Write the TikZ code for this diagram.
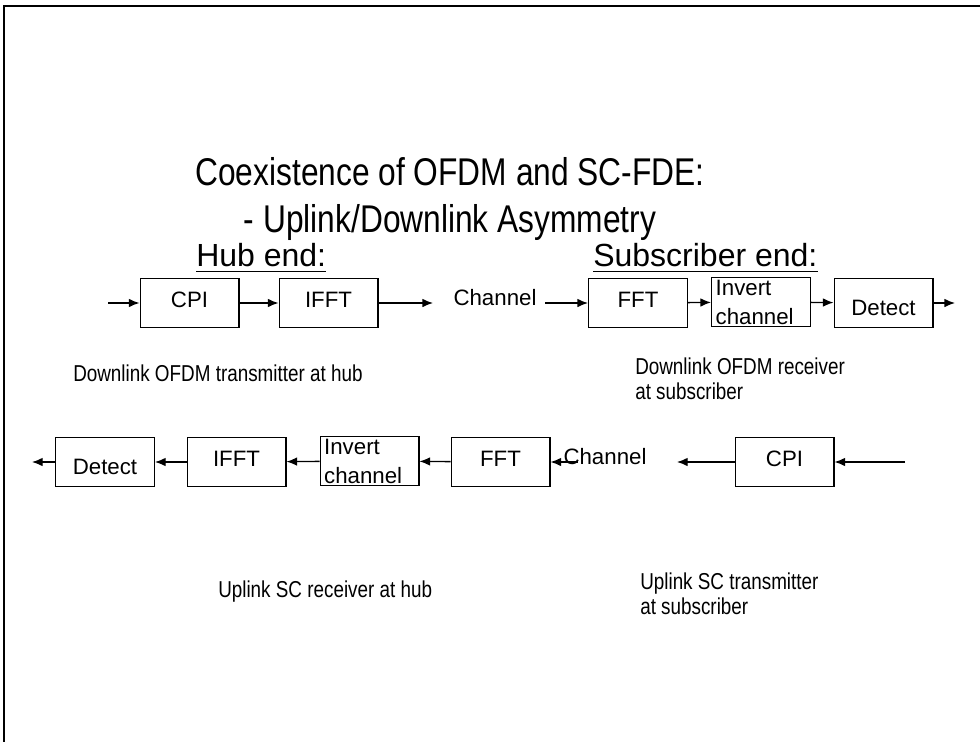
\documentclass[tikz,border=0pt]{standalone}
\usepackage{fontspec}
\setmainfont{Liberation Sans}
\newfontfamily\narrowsf[FakeStretch=0.82]{Liberation Sans}
\usetikzlibrary{arrows.meta}

\begin{document}
\begin{tikzpicture}[x=0.75pt,y=-0.75pt,
   blk/.style={draw,line width=1pt,minimum width=74pt,minimum height=36.5pt,inner sep=0pt,
     text height=12pt,text depth=5.5pt,font=\fontsize{16.7}{20}\selectfont},
   lowblk/.style={blk,text height=19pt,text depth=0pt},
   twoline/.style={blk,align=left,text width=68pt,text height=,text depth=,
     font=\fontsize{16.7}{21.75}\selectfont},
   lbl/.style={inner sep=0pt,anchor=base,font=\fontsize{16.7}{20}\selectfont},
   caption/.style={inner sep=0pt,anchor=base west,align=left,
     font=\narrowsf\fontsize{17.25}{18.75}\selectfont},
   head/.style={inner sep=0pt,anchor=base west,font=\fontsize{24}{28}\selectfont},
   sig/.style={line width=1pt,-{Latex[length=8pt,width=6.5pt]}}]

\useasboundingbox (0,0) rectangle (980,742);
\draw[line width=1.2pt] (980,6) -- (4,6) -- (4,742);

\node[inner sep=0pt,anchor=base,align=center,font=\narrowsf\fontsize{29}{35}\selectfont] (title)
   at (450,232) {Coexistence of OFDM and SC-FDE:\\- Uplink/Downlink Asymmetry};

\node[head] (hub) at (196,266) {Hub end:};
\node[head] (sub) at (593,266) {Subscriber end:};
\draw[line width=0.9pt] ([yshift=-4pt]hub.base west) -- ([yshift=-4pt]hub.base east);
\draw[line width=0.9pt] ([yshift=-4pt]sub.base west) -- ([yshift=-4pt]sub.base east);

% downlink
\coordinate (din) at (108,303);
\node[blk] (dcpi) at (189.5,303) {CPI};
\node[blk] (difft) at (328.5,303) {IFFT};
\coordinate (dtx) at (433,303);
\node[lbl] (dchan) at (495,305) {Channel};
\coordinate (drx) at (545,303);
\node[blk] (dfft) at (638,303) {FFT};
\node[twoline] (dinv) at (761,302) {Invert\\channel};
\node[lowblk] (ddet) at (883.5,303) {Detect};
\coordinate (dout) at (955,303);

\draw[sig] (din) -- (dcpi);
\draw[sig] (dcpi) -- (difft);
\draw[sig] (difft) -- (dtx);
\draw[sig] (drx) -- (dfft);
\draw[sig] (dfft) -- (dinv);
\draw[sig] (dinv) -- (ddet);
\draw[sig] (ddet) -- (dout);

\node[caption] (dtxcap) at (73,381) {Downlink OFDM transmitter at hub};
\node[caption] (drxcap) at (635,399) {Downlink OFDM receiver\\at subscriber};

% uplink
\coordinate (uout) at (32,462);
\node[lowblk] (udet) at (105,462) {Detect};
\node[blk] (uifft) at (236.5,462) {IFFT};
\node[twoline] (uinv) at (369.5,461) {Invert\\channel};
\node[blk] (ufft) at (500.5,462) {FFT};
\node[lbl] (uchan) at (605,464) {Channel};
\coordinate (urx) at (578,462);
\coordinate (utx) at (677,462);
\node[blk] (ucpi) at (784.5,462) {CPI};
\coordinate (uin) at (905,462);

\draw[sig] (uin) -- (ucpi);
\draw[sig] (ucpi) -- (utx);
\draw[sig] (urx) -- (ufft);
\draw[sig] (ufft) -- (uinv);
\draw[sig] (uinv) -- (uifft);
\draw[sig] (uifft) -- (udet);
\draw[sig] (udet) -- (uout);

\node[caption] (urxcap) at (218,597) {Uplink SC receiver at hub};
\node[caption] (utxcap) at (640,614) {Uplink SC transmitter\\at subscriber};
\end{tikzpicture}
\end{document}
